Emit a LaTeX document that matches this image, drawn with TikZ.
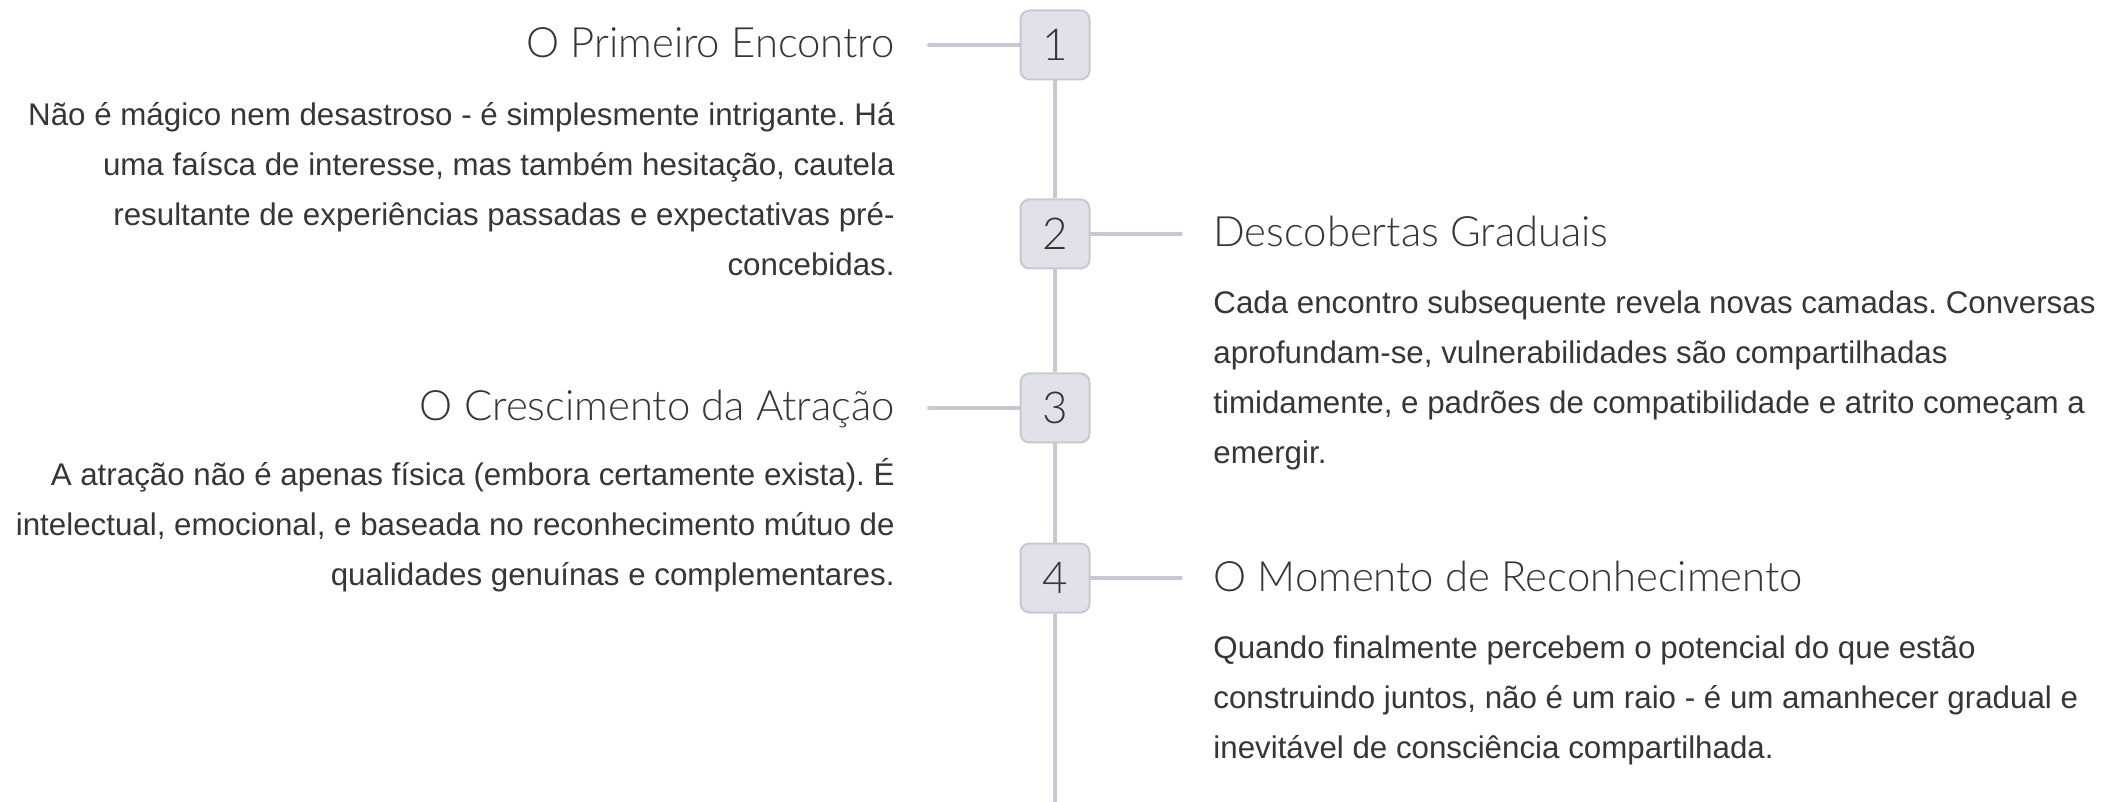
\documentclass[tikz,border=0pt]{standalone}
\usepackage{fontspec}
\setmainfont{Liberation Sans}
\newfontfamily\headfont{Lato Light}
\definecolor{txt}{HTML}{363636}
\definecolor{linec}{HTML}{C8C8D2}
\definecolor{boxfill}{HTML}{E1E1E9}
\definecolor{boxdraw}{HTML}{C9C9D3}
\newcommand\bodyfont{\frenchspacing\fontsize{15.65}{25}\selectfont}
\newcommand\hfont{\headfont\fontsize{20.9}{24}\selectfont}
\newcommand\numfont{\headfont\fontsize{22}{24}\selectfont}
\tikzset{
  numbox/.style={draw=boxdraw, fill=boxfill, line width=1pt, rounded corners=4.5pt,
    minimum width=34.5pt, minimum height=34.5pt, inner sep=0pt, text=txt, font=\numfont},
  conn/.style={draw=linec, line width=1.9pt, line cap=round},
  headL/.style={anchor=base east, inner sep=0pt, text=txt, font=\hfont},
  headR/.style={anchor=base west, inner sep=0pt, text=txt, font=\hfont},
  bodyL/.style={anchor=north east, inner sep=0pt, align=right, text=txt, font=\bodyfont},
  bodyR/.style={anchor=north west, inner sep=0pt, align=left, text=txt, font=\bodyfont},
}
\begin{document}
\begin{tikzpicture}[x=0.5pt, y=-0.5pt]
\useasboundingbox (0,0) rectangle (2101,802);
\fill[white] (0,0) rectangle (2101,802);

% timeline boxes
\node[numbox] (n1) at (1055,45) {1};
\node[numbox] (n2) at (1055,234) {2};
\node[numbox] (n3) at (1055,408) {3};
\node[numbox] (n4) at (1055,578) {4};
\coordinate (tend) at (1055,802);

\draw[conn, line cap=butt] (n1) -- (n2);
\draw[conn, line cap=butt] (n2) -- (n3);
\draw[conn, line cap=butt] (n3) -- (n4);
\draw[conn, line cap=butt] (n4) -- (tend);

% connector ends
\coordinate (c1) at (929,45);
\coordinate (c2) at (1181,234);
\coordinate (c3) at (929,408);
\coordinate (c4) at (1181,578);
\draw[conn] (c1) -- (n1);
\draw[conn] (n2) -- (c2);
\draw[conn] (c3) -- (n3);
\draw[conn] (n4) -- (c4);

% headings
\node[headL] (h1) at (895,58) {O Primeiro Encontro};
\node[headR] (h2) at (1213,247) {Descobertas Graduais};
\node[headL] (h3) at (895,421) {O Crescimento da Atração};
\node[headR] (h4) at (1213,591) {O Momento de Reconhecimento};

% bodies (top = first baseline - 35px)
\node[bodyL] (b1) at (895,90) {\strut Não é mágico nem desastroso - é simplesmente intrigante. Há\\
uma faísca de interesse, mas também hesitação, cautela\\
resultante de experiências passadas e expectativas pré-\\
concebidas.};
\node[bodyR] (b2) at (1213,278) {\strut Cada encontro subsequente revela novas camadas. Conversas\\
aprofundam-se, vulnerabilidades são compartilhadas\\
timidamente, e padrões de compatibilidade e atrito começam a\\
emergir.};
\node[bodyL] (b3) at (895,450) {\strut A atração não é apenas física (embora certamente exista). É\\
intelectual, emocional, e baseada no reconhecimento mútuo de\\
qualidades genuínas e complementares.};
\node[bodyR] (b4) at (1213,623) {\strut Quando finalmente percebem o potencial do que estão\\
construindo juntos, não é um raio - é um amanhecer gradual e\\
inevitável de consciência compartilhada.};
\end{tikzpicture}
\end{document}
